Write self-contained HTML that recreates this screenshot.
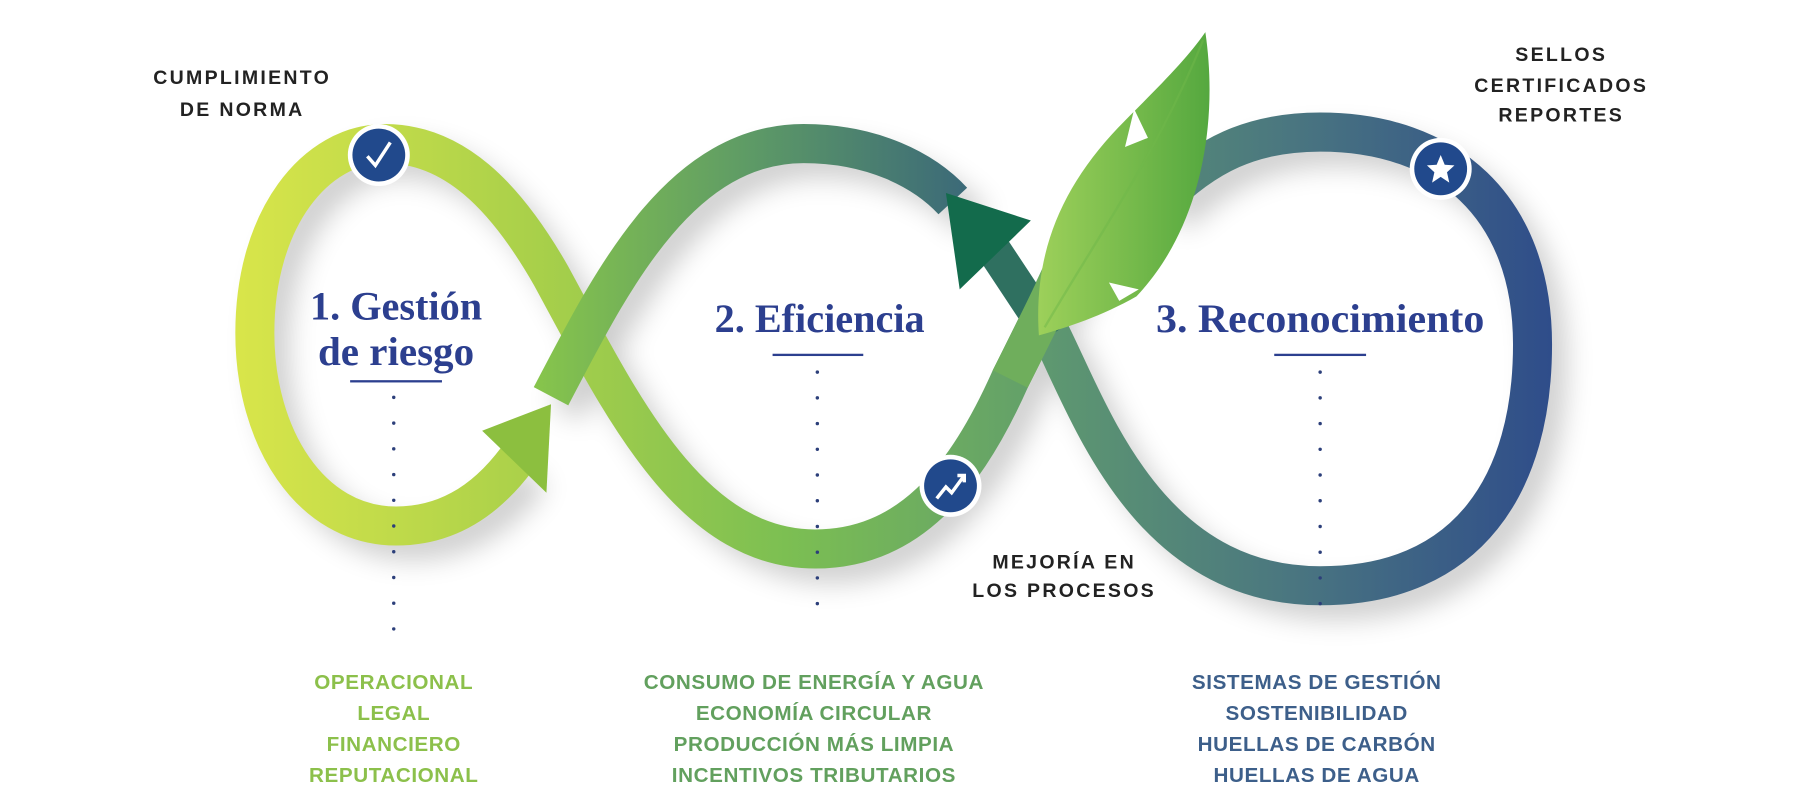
<!DOCTYPE html>
<html><head><meta charset="utf-8"><style>
html,body{margin:0;padding:0;background:#fff;width:1800px;height:812px;overflow:hidden}
svg{display:block}
.lab{font-family:"Liberation Sans",sans-serif;font-weight:bold;font-size:17px;letter-spacing:2px;fill:#222;text-anchor:middle}
.lst{font-family:"Liberation Sans",sans-serif;font-weight:bold;font-size:18px;letter-spacing:0.5px;text-anchor:middle}
.ttl{font-family:"Liberation Serif",serif;font-weight:bold;font-size:35px;fill:#2c3f8f;text-anchor:middle}
</style></head><body>
<svg width="1800" height="812" viewBox="0 0 1568 707" preserveAspectRatio="none" xmlns="http://www.w3.org/2000/svg">
<defs>
<linearGradient id="gA" x1="210" y1="0" x2="940" y2="0" gradientUnits="userSpaceOnUse">
<stop offset="0" stop-color="#d8e54a"/><stop offset="0.35" stop-color="#a9d04a"/><stop offset="0.65" stop-color="#7cbf52"/><stop offset="1" stop-color="#5e9a6e"/></linearGradient>
<linearGradient id="gB" x1="470" y1="0" x2="840" y2="0" gradientUnits="userSpaceOnUse">
<stop offset="0" stop-color="#86c44c"/><stop offset="0.5" stop-color="#5d9a66"/><stop offset="1" stop-color="#3c6a78"/></linearGradient>
<linearGradient id="gC" x1="900" y1="0" x2="1350" y2="0" gradientUnits="userSpaceOnUse">
<stop offset="0" stop-color="#5f9a6f"/><stop offset="0.5" stop-color="#4a7680"/><stop offset="1" stop-color="#2f4d8a"/></linearGradient>
<linearGradient id="gL" x1="0" y1="0" x2="1" y2="0">
<stop offset="0" stop-color="#9dd05a"/><stop offset="1" stop-color="#55a83f"/></linearGradient>
<filter id="sh" x="-20%" y="-20%" width="140%" height="140%"><feGaussianBlur stdDeviation="12"/></filter>
</defs>
<g opacity="0.2" filter="url(#sh)" transform="translate(14,14)" fill="none" stroke="#000" stroke-width="30">
<path d="M450 400 C420 440,385 458,345 458 C270 458,222 380,222 290 C222 190,275 125,335 125 C395 125,440 170,480 240 C540 350,600 478,710 478 C790 478,840 420,880 330 C900 290,920 250,935 215"/>
<path d="M915 290 C950 360,1000 510,1150 510 C1280 510,1335 420,1335 300 C1335 180,1260 115,1150 115 C1090 115,1050 135,1010 175"/>
<path d="M480 345 C530 250,590 125,700 125 C760 125,810 150,835 180"/>
</g>
<path d="M450 400 C420 440,385 458,345 458 C270 458,222 380,222 290 C222 190,275 125,335 125 C395 125,440 170,480 240 C540 350,600 478,710 478 C790 478,840 420,880 330 C900 290,920 250,935 215" fill="none" stroke="url(#gA)" stroke-width="34"/>
<path d="M915 290 C950 360,1000 510,1150 510 C1280 510,1335 420,1335 300 C1335 180,1260 115,1150 115 C1090 115,1050 135,1010 175" fill="none" stroke="url(#gC)" stroke-width="34"/>
<path d="M480 345 C530 250,590 125,700 125 C760 125,805 148,830 175" fill="none" stroke="url(#gB)" stroke-width="34"/>
<polygon points="480,352 420,375 476,429" fill="#8cbf3f"/>
<path d="M915 292 L862 212" stroke="#2f7060" stroke-width="30" fill="none"/>
<polygon points="824,168 898,192 836,252" fill="#136b4c"/>
<path d="M880 330 C900 290,918 255,932 222" fill="none" stroke="#6fae5c" stroke-width="34"/>
<path d="M905 292 C900 220,925 160,980 105 C1010 75,1035 50,1050 28 C1062 110,1045 200,990 258 C960 275,930 285,905 292 Z" fill="url(#gL)"/>
<path d="M988 95 L1000 120 L980 128 Z" fill="#fff"/>
<path d="M966 246 L992 252 L975 262 Z" fill="#fff"/>
<path d="M910 285 C960 200,1010 130,1048 35" fill="none" stroke="#6fb84a" stroke-width="2" opacity="0.5"/>
<g>
<circle cx="330" cy="135" r="27" fill="#fff"/><circle cx="330" cy="135" r="23" fill="#21498c"/>
<path d="M320 136 L327 144 L340 124" fill="none" stroke="#fff" stroke-width="3"/>
<circle cx="828" cy="423" r="27" fill="#fff"/><circle cx="828" cy="423" r="23" fill="#21498c"/>
<path d="M816 434 L824 424 L829 429 L840 414 M834 414 L840 414 L840 420" fill="none" stroke="#fff" stroke-width="3"/>
<circle cx="1255" cy="147" r="27" fill="#fff"/><circle cx="1255" cy="147" r="23" fill="#21498c"/>
<polygon points="1255,135 1258.5,143.5 1267,144 1260.5,150 1262.5,159 1255,154 1247.5,159 1249.5,150 1243,144 1251.5,143.5" fill="#fff"/>
</g>
<text class="ttl" x="345" y="278" textLength="150" lengthAdjust="spacingAndGlyphs">1. Gestión</text>
<text class="ttl" x="345" y="318" textLength="136" lengthAdjust="spacingAndGlyphs">de riesgo</text>
<rect x="305" y="331" width="80" height="2" fill="#2c3f8f"/>
<text class="ttl" x="714" y="289" textLength="183" lengthAdjust="spacingAndGlyphs">2. Eficiencia</text>
<rect x="673" y="308" width="79" height="2" fill="#2c3f8f"/>
<text class="ttl" x="1150" y="289" textLength="286" lengthAdjust="spacingAndGlyphs">3. Reconocimiento</text>
<rect x="1110" y="308" width="80" height="2" fill="#2c3f8f"/>
<line x1="343" y1="346" x2="343" y2="548" stroke="#2c3f7a" stroke-width="3" stroke-linecap="round" stroke-dasharray="0 22.4"/>
<line x1="712" y1="324" x2="712" y2="548" stroke="#2c3f7a" stroke-width="3" stroke-linecap="round" stroke-dasharray="0 22.4"/>
<line x1="1150" y1="324" x2="1150" y2="548" stroke="#2c3f7a" stroke-width="3" stroke-linecap="round" stroke-dasharray="0 22.4"/>
<text class="lab" x="211" y="73">CUMPLIMIENTO</text>
<text class="lab" x="211" y="101">DE NORMA</text>
<text class="lab" x="1360" y="53">SELLOS</text>
<text class="lab" x="1360" y="80">CERTIFICADOS</text>
<text class="lab" x="1360" y="106">REPORTES</text>
<text class="lab" x="927" y="495">MEJORÍA EN</text>
<text class="lab" x="927" y="520">LOS PROCESOS</text>
<g class="lst" fill="#8cc04b">
<text x="343" y="600">OPERACIONAL</text><text x="343" y="627">LEGAL</text><text x="343" y="654">FINANCIERO</text><text x="343" y="681">REPUTACIONAL</text>
</g>
<g class="lst" fill="#62a05e">
<text x="709" y="600">CONSUMO DE ENERGÍA Y AGUA</text><text x="709" y="627">ECONOMÍA CIRCULAR</text><text x="709" y="654">PRODUCCIÓN MÁS LIMPIA</text><text x="709" y="681">INCENTIVOS TRIBUTARIOS</text>
</g>
<g class="lst" fill="#3d5f8a">
<text x="1147" y="600">SISTEMAS DE GESTIÓN</text><text x="1147" y="627">SOSTENIBILIDAD</text><text x="1147" y="654">HUELLAS DE CARBÓN</text><text x="1147" y="681">HUELLAS DE AGUA</text>
</g>
</svg>
</body></html>
